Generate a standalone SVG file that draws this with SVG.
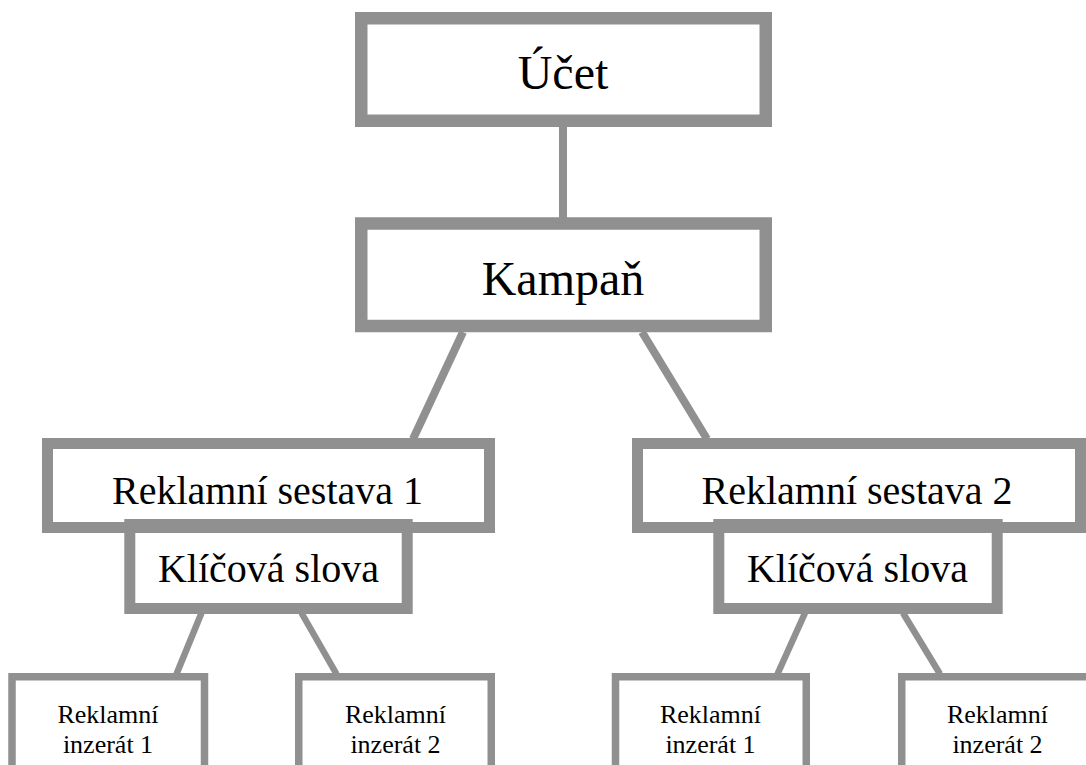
<svg xmlns="http://www.w3.org/2000/svg" width="1086" height="765" viewBox="0 0 1086 765">
<style>
.box{fill:#ffffff;stroke:#909090}
.big{stroke-width:12.5}
.mid{stroke-width:11}
.leaf{stroke-width:7.5}
.open{fill:none;stroke:#909090;stroke-width:11}
.conn line{stroke:#909090;stroke-width:8;stroke-linecap:butt}
.conn line.thin{stroke-width:6.5}
text{font-family:'Liberation Serif','Times New Roman',serif;fill:#000;text-anchor:middle}
.t48{font-size:48px}
.t40{font-size:40px}
.t26{font-size:26px}
</style>
<rect width="1086" height="765" fill="#ffffff"/>
<g id="connectors" class="conn">
<line x1="563" y1="127" x2="563" y2="218"/>
<line x1="463" y1="332" x2="413" y2="439"/>
<line x1="642" y1="332" x2="707" y2="439"/>
<line class="thin" x1="201.5" y1="613" x2="176.5" y2="674"/>
<line class="thin" x1="301.5" y1="613" x2="336.5" y2="674"/>
<line class="thin" x1="805" y1="613" x2="777.5" y2="674"/>
<line class="thin" x1="903" y1="613" x2="940" y2="674"/>
</g>
<g id="ucet">
<rect class="box big" x="361.25" y="18.25" width="404.5" height="102.5"/>
<text class="t48" x="563" y="89">Účet</text>
</g>
<g id="kampan">
<rect class="box big" x="361.25" y="223.5" width="404.5" height="102.5"/>
<text class="t48" x="563" y="295">Kampaň</text>
</g>
<g id="klicova1">
<rect class="box mid" x="129.8" y="524.5" width="277.4" height="84"/>
<text class="t40" x="268.5" y="581.5">Klíčová slova</text>
</g>
<g id="klicova2">
<rect class="box mid" x="718.8" y="524.5" width="278.4" height="84"/>
<text class="t40" x="857.5" y="581.5">Klíčová slova</text>
</g>
<g id="sestava1">
<rect class="open" x="47.5" y="443.5" width="442" height="84"/>
<text class="t40" x="267.5" y="503.5">Reklamní sestava 1</text>
</g>
<g id="sestava2">
<rect class="open" x="637.5" y="443.5" width="443" height="84"/>
<text class="t40" x="857" y="503.5">Reklamní sestava 2</text>
</g>
<g id="inzerat1a">
<rect class="box leaf" x="12" y="676.75" width="192.5" height="110"/>
<text class="t26" x="108" y="723">Reklamní</text>
<text class="t26" x="108" y="753">inzerát 1</text>
</g>
<g id="inzerat2a">
<rect class="box leaf" x="298.75" y="676.75" width="192.5" height="110"/>
<text class="t26" x="395.5" y="723">Reklamní</text>
<text class="t26" x="395.5" y="753">inzerát 2</text>
</g>
<g id="inzerat1b">
<rect class="box leaf" x="615.5" y="676.75" width="190.75" height="110"/>
<text class="t26" x="710.5" y="723">Reklamní</text>
<text class="t26" x="710.5" y="753">inzerát 1</text>
</g>
<g id="inzerat2b">
<rect class="box leaf" x="901.75" y="676.75" width="192.5" height="110"/>
<text class="t26" x="997.5" y="723">Reklamní</text>
<text class="t26" x="997.5" y="753">inzerát 2</text>
</g>
</svg>
